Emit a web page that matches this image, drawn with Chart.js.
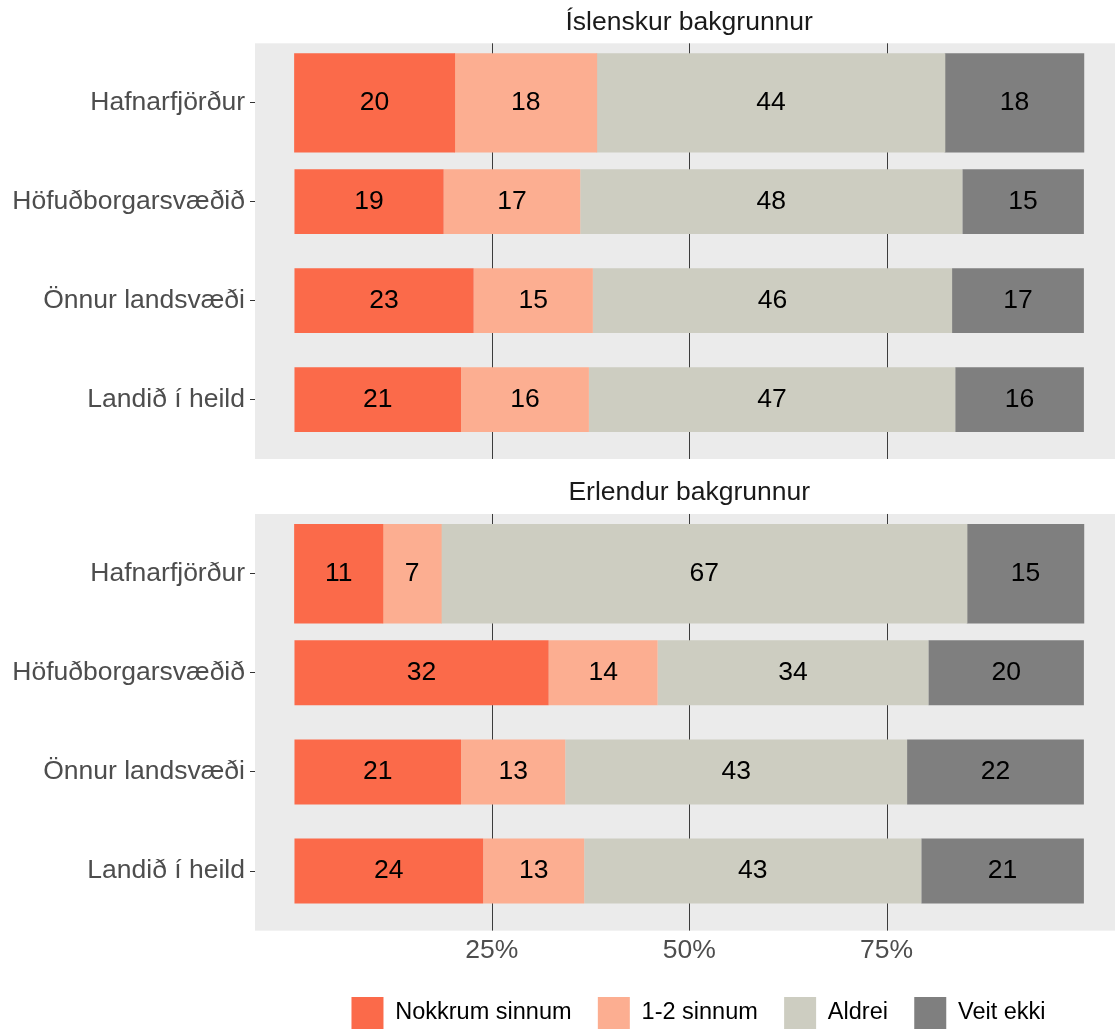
<!DOCTYPE html>
<html>
<head>
<meta charset="utf-8">
<script src="https://cdn.jsdelivr.net/npm/chart.js@4.4.1/dist/chart.umd.min.js"></script>
<style>
  html, body { margin: 0; padding: 0; overflow: hidden; background: #fff; }
  .panel { position: absolute; left: 0; }
</style>
</head>
<body>
<div class="panel" style="top:0"><canvas id="chartTop" width="1142" height="470"></canvas></div>
<div class="panel" style="top:470px"><canvas id="chartBottom" width="1142" height="569"></canvas></div>
<script>
'use strict'

const regions = ['Hafnarfjörður', 'Höfuðborgarsvæðið', 'Önnur landsvæði', 'Landið í heild'];
const answers = ['Nokkrum sinnum', '1-2 sinnum', 'Aldrei', 'Veit ekki'];
const answerColors = ['#FB6A4A', '#FCAE91', '#CDCDC1', '#7F7F7F'];
const xTicks = [25, 50, 75];

// Íslenskur bakgrunnur - share (%) per region
const islNokkrum = [20.3, 18.9, 22.7, 21.1];
const isl12 = [18.0, 17.3, 15.1, 16.2];
const islAldrei = [44.1, 48.4, 45.5, 46.4];
const islVeit = [17.6, 15.4, 16.7, 16.3];
// numbers printed on the bars
const islNokkrumLbl = [20, 19, 23, 21];
const isl12Lbl = [18, 17, 15, 16];
const islAldreiLbl = [44, 48, 46, 47];
const islVeitLbl = [18, 15, 17, 16];

// Erlendur bakgrunnur
const erlNokkrum = [11.2, 32.2, 21.1, 23.9];
const erl12 = [7.4, 13.8, 13.2, 12.8];
const erlAldrei = [66.6, 34.3, 43.3, 42.7];
const erlVeit = [14.8, 19.7, 22.4, 20.6];
const erlNokkrumLbl = [11, 32, 21, 24];
const erl12Lbl = [7, 14, 13, 13];
const erlAldreiLbl = [67, 34, 43, 43];
const erlVeitLbl = [15, 20, 22, 21];

const FONT = '"Liberation Sans", Arial, Helvetica, sans-serif';
Chart.defaults.font.family = FONT;
Chart.defaults.font.size = 26.5;
Chart.defaults.animation = false;

// Hafnarfjörður gets a full width bar, the other rows a thinner one
function buildDatasets(values, shown) {
  const sets = [];
  [[0], [1, 2, 3]].forEach((rows, g) => {
    values.forEach((vals, s) => {
      sets.push({
        label: answers[s],
        data: vals.map((v, i) => rows.includes(i) ? v : null),
        shown: shown[s],
        backgroundColor: answerColors[s],
        barPercentage: g === 0 ? 1 : 0.655,
        categoryPercentage: 1
      });
    });
  });
  return sets;
}

function panelPlugin(title, titleY) {
  return {
    id: 'panel',
    beforeDraw(chart) {
      const {ctx, chartArea: a, scales: {x}} = chart;
      const pad = (a.bottom - a.top) / regions.length * 0.1;
      ctx.save();
      ctx.fillStyle = '#EBEBEB';
      ctx.fillRect(a.left, a.top - pad, a.right - a.left, a.bottom - a.top + 2 * pad);
      ctx.strokeStyle = '#3c3c3c';
      ctx.lineWidth = 1;
      xTicks.forEach(v => {
        const px = Math.round(x.getPixelForValue(v)) + 0.5;
        ctx.beginPath();
        ctx.moveTo(px, a.top - pad);
        ctx.lineTo(px, a.bottom + pad);
        ctx.stroke();
      });
      ctx.fillStyle = '#1A1A1A';
      ctx.font = '26.5px ' + FONT;
      ctx.textAlign = 'center';
      ctx.textBaseline = 'middle';
      ctx.fillText(title, x.getPixelForValue(50), titleY);
      ctx.restore();
    },
    afterDatasetsDraw(chart) {
      const ctx = chart.ctx;
      ctx.save();
      ctx.font = '26.5px ' + FONT;
      ctx.fillStyle = '#000';
      ctx.textAlign = 'center';
      ctx.textBaseline = 'middle';
      chart.data.datasets.forEach((ds, i) => {
        chart.getDatasetMeta(i).data.forEach((bar, j) => {
          if (ds.data[j] == null) return;
          const {x, y, base} = bar.getProps(['x', 'y', 'base'], true);
          ctx.fillText(ds.shown[j], (x + base) / 2, y);
        });
      });
      ctx.restore();
    }
  };
}

function makeChart(canvasId, title, titleY, values, shown, bottom) {
  return new Chart(document.getElementById(canvasId), {
    type: 'bar',
    data: { labels: regions, datasets: buildDatasets(values, shown) },
    options: {
      indexAxis: 'y',
      responsive: false,
      layout: { padding: { top: bottom ? 53.9 : 53.2, bottom: bottom ? 0 : 19.9 } },
      scales: {
        x: {
          stacked: true,
          min: -5,
          max: 107.36,
          display: bottom,
          afterBuildTicks: s => { s.ticks = xTicks.map(v => ({ value: v })); },
          afterFit: s => { if (bottom) s.height = 50; },
          grid: { display: false, drawTicks: false },
          border: { display: false },
          ticks: {
            autoSkip: false, maxRotation: 0, padding: 14,
            color: '#4D4D4D', callback: v => v + '%'
          }
        },
        y: {
          stacked: true,
          afterFit: s => { s.width = 255; },
          grid: { drawOnChartArea: false, offset: false, tickLength: 5, color: '#333333' },
          border: { display: false },
          ticks: { padding: 5, color: '#4D4D4D' }
        }
      },
      plugins: {
        tooltip: { enabled: false },
        legend: {
          display: bottom,
          position: 'bottom',
          fullSize: false,
          labels: {
            boxWidth: 32, boxHeight: 32, padding: 26.3,
            color: '#000', font: { size: 23.5 },
            filter: item => item.datasetIndex < answers.length
          }
        }
      }
    },
    plugins: [panelPlugin(title, titleY)]
  });
}

makeChart('chartTop', 'Íslenskur bakgrunnur', 22.5,
  [islNokkrum, isl12, islAldrei, islVeit],
  [islNokkrumLbl, isl12Lbl, islAldreiLbl, islVeitLbl], false);

makeChart('chartBottom', 'Erlendur bakgrunnur', 23,
  [erlNokkrum, erl12, erlAldrei, erlVeit],
  [erlNokkrumLbl, erl12Lbl, erlAldreiLbl, erlVeitLbl], true);
</script>
</body>
</html>
